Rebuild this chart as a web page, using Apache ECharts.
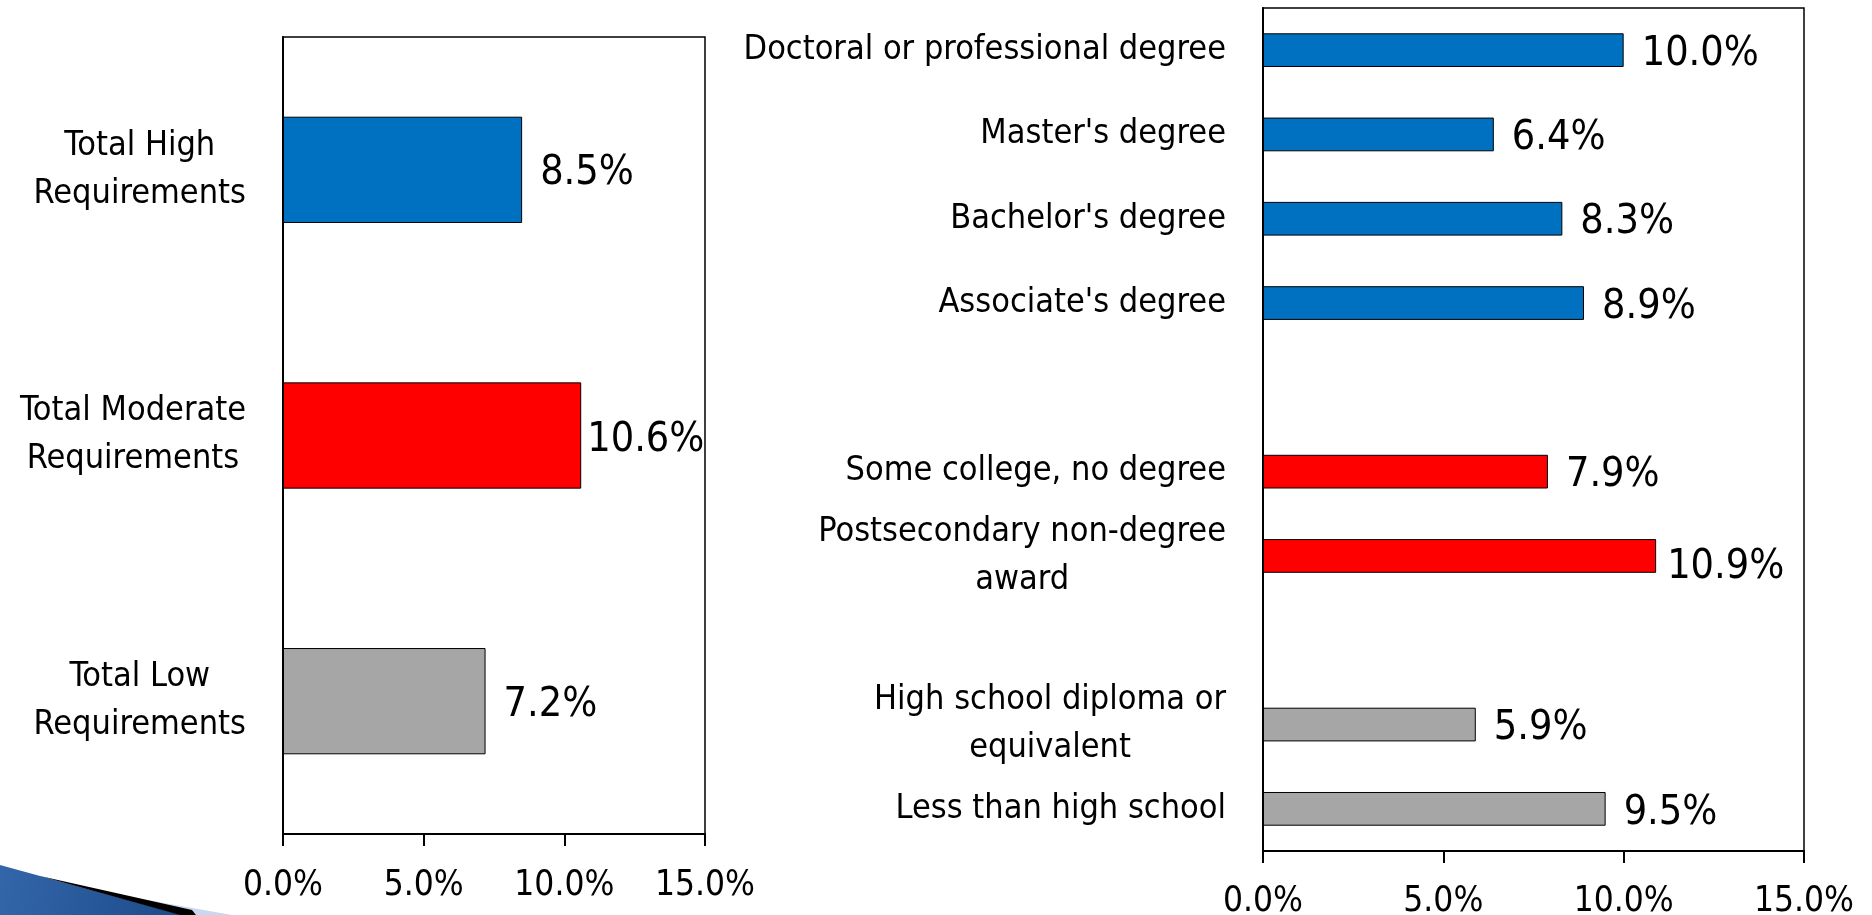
<!DOCTYPE html>
<html>
<head>
<meta charset="utf-8">
<title>Requirements</title>
<script src="https://cdn.jsdelivr.net/npm/echarts@6/dist/echarts.min.js"></script>
<style>
    html, body { margin: 0; padding: 0; background: #fff; }
    #chart { width: 1872px; height: 915px; }
</style>
</head>
<body>
<div id="chart"></div>
<script>
// left panel: totals by requirement level
var leftCategories = ['Total High\nRequirements', 'Total Moderate\nRequirements', 'Total Low\nRequirements']
var leftValues = [8.5, 10.6, 7.2]
var leftGroups = ['high', 'moderate', 'low']

// right panel: by education level (blank rows are the gaps between groups)
var rightCategories = [
    'Doctoral or professional degree',
    "Master's degree",
    "Bachelor's degree",
    "Associate's degree",
    ' ',
    'Some college, no degree',
    'Postsecondary non-degree\naward',
    '  ',
    'High school diploma or\nequivalent',
    'Less than high school'
]
var rightValues = [10.0, 6.4, 8.3, 8.9, null, 7.9, 10.9, null, 5.9, 9.5]
var rightGroups = ['high', 'high', 'high', 'high', null, 'moderate', 'moderate', null, 'low', 'low']

var tickValues = [0, 5, 10, 15]

var groupColor = { high: '#0070C0', moderate: '#FF0000', low: '#A6A6A6' }

// pick the condensed face if it is there, otherwise shrink the normal one
var ctx = document.createElement('canvas').getContext('2d')
function textWidth(str, font) {
    ctx.font = font
    return ctx.measureText(str).width
}
var hasCondensed = textWidth('Requirements', "40px 'DejaVu Sans Condensed', monospace") !== textWidth('Requirements', '40px monospace')
var FONT = hasCondensed ? "'DejaVu Sans Condensed', 'DejaVu Sans', sans-serif" : "'DejaVu Sans', sans-serif"
var k = hasCondensed ? 1 : 0.9
var CAT_SIZE = Math.round(34 * k)
var TICK_SIZE = Math.round(35 * k)
var VAL_SIZE = Math.round(41 * k)

// lines of a wrapped label are centred inside a right-aligned block
function catLabel(name) {
    if (name.indexOf('\n') < 0) return name
    return name.split('\n').map(function (l) { return '{c|' + l + '}' }).join('\n')
}

function buildData(values, groups, labelTweaks) {
    return values.map(function (v, i) {
        if (v == null) return '-'
        var item = { value: v, itemStyle: { color: groupColor[groups[i]] } }
        if (labelTweaks[i]) item.label = labelTweaks[i]
        return item
    })
}

function valueAxis(gridIndex, margin) {
    return {
        gridIndex: gridIndex,
        type: 'value',
        min: tickValues[0],
        max: tickValues[tickValues.length - 1],
        interval: tickValues[1] - tickValues[0],
        axisLine: { show: true, lineStyle: { color: '#000', width: 2 } },
        axisTick: { show: true, length: 12, lineStyle: { color: '#000', width: 2 } },
        splitLine: { show: false },
        axisLabel: {
            margin: margin,
            color: '#000',
            fontFamily: FONT,
            fontSize: TICK_SIZE,
            formatter: function (v) { return v.toFixed(1) + '%' }
        }
    }
}

function categoryAxis(gridIndex, categories) {
    return {
        gridIndex: gridIndex,
        type: 'category',
        inverse: true,
        data: categories,
        axisLine: { show: true, lineStyle: { color: '#000', width: 2 } },
        axisTick: { show: false },
        splitLine: { show: false },
        axisLabel: {
            interval: 0,
            margin: 37,
            color: '#000',
            fontFamily: FONT,
            fontSize: CAT_SIZE,
            lineHeight: 48,
            formatter: catLabel,
            rich: {
                c: { align: 'center', color: '#000', fontFamily: FONT, fontSize: CAT_SIZE, lineHeight: 48 }
            }
        }
    }
}

function barSeries(axisIndex, data) {
    return {
        type: 'bar',
        xAxisIndex: axisIndex,
        yAxisIndex: axisIndex,
        data: data,
        barWidth: '40%',
        itemStyle: { borderColor: '#000', borderWidth: 1 },
        label: {
            show: true,
            position: 'right',
            distance: 18,
            offset: [0, 4],
            color: '#000',
            fontFamily: FONT,
            fontSize: VAL_SIZE,
            formatter: function (p) { return p.value.toFixed(1) + '%' }
        },
        emphasis: { disabled: true },
        silent: true
    }
}

var chart = echarts.init(document.getElementById('chart'), null, { renderer: 'canvas' })
chart.setOption({
    backgroundColor: '#fff',
    animation: false,
    textStyle: { fontFamily: FONT },
    grid: [
        { left: 283, top: 37, width: 422, height: 797, show: true, borderColor: '#000', borderWidth: 1.5, containLabel: false, outerBoundsMode: 'none' },
        { left: 1263, top: 8, width: 541, height: 843, show: true, borderColor: '#000', borderWidth: 1.5, containLabel: false, outerBoundsMode: 'none' }
    ],
    xAxis: [valueAxis(0, 34), valueAxis(1, 33)],
    yAxis: [categoryAxis(0, leftCategories), categoryAxis(1, rightCategories)],
    series: [
        // 10.6% sits squeezed against the plot edge in the original
        barSeries(0, buildData(leftValues, leftGroups, { 1: { distance: 6, offset: [0, 5] } })),
        barSeries(1, buildData(rightValues, rightGroups, { 6: { distance: 11, offset: [0, 11] } }))
    ],
    // slide template swoosh, bottom left corner
    graphic: [
        {
            type: 'polygon',
            silent: true,
            shape: { points: [[130, 897], [232, 915], [185, 915]] },
            style: { fill: '#C8D8EE' }
        },
        {
            type: 'polygon',
            silent: true,
            shape: { points: [[0, 865], [182, 915], [0, 915]] },
            style: {
                fill: new echarts.graphic.LinearGradient(0, 0, 1, 1, [
                    { offset: 0, color: '#3366AA' },
                    { offset: 1, color: '#1C4B8A' }
                ])
            }
        },
        {
            type: 'polygon',
            silent: true,
            shape: { points: [[40, 876], [192, 910], [196, 915], [180, 915]] },
            style: { fill: '#000' }
        }
    ]
})
window.addEventListener('resize', function () { chart.resize() })
</script>
</body>
</html>
